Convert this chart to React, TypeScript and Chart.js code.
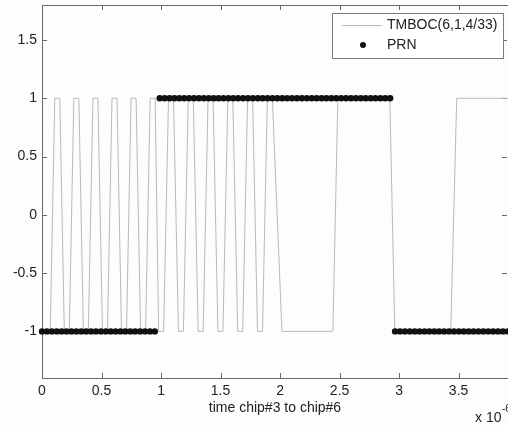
import React, { useEffect, useRef } from 'react';
import { Chart, registerables } from 'chart.js';

Chart.register(...registerables);

// ---- data (time axis in units of 1e-6 s) ----
const X_TICKS = [0, 0.5, 1, 1.5, 2, 2.5, 3, 3.5];
const Y_TICKS = [-1, -0.5, 0, 0.5, 1, 1.5];
const X_MIN = 0;
const X_MAX = 3.915;
const Y_MIN = -1.4;
const Y_MAX = 1.8;

const SERIES_LABELS = ['TMBOC(6,1,4/33)', 'PRN'];
const X_LABEL = 'time chip#3 to chip#6';

// PRN samples (24 per chip, chips #3..#6)
const SAMPLE_STEP = 0.0412;
const prnValues = [
  -1, -1, -1, -1, -1, -1, -1, -1, -1, -1, -1, -1, -1, -1, -1, -1, -1, -1, -1, -1, -1, -1, -1, -1,
  1, 1, 1, 1, 1, 1, 1, 1, 1, 1, 1, 1, 1, 1, 1, 1, 1, 1, 1, 1, 1, 1, 1, 1,
  1, 1, 1, 1, 1, 1, 1, 1, 1, 1, 1, 1, 1, 1, 1, 1, 1, 1, 1, 1, 1, 1, 1, 1,
  -1, -1, -1, -1, -1, -1, -1, -1, -1, -1, -1, -1, -1, -1, -1, -1, -1, -1, -1, -1, -1, -1, -1, -1,
];

// TMBOC waveform vertices
const tmbocTimes = [
  0, 0.0692, 0.1074, 0.1493, 0.1875, 0.2294, 0.2676, 0.3096, 0.3477, 0.3897,
  0.4279, 0.4698, 0.508, 0.5499, 0.5881, 0.63, 0.6682, 0.7101, 0.7483, 0.7903,
  0.8284, 0.8704, 0.9086, 0.9505, 0.9799, 1.0218, 1.0629, 1.1049, 1.146, 1.1879,
  1.229, 1.271, 1.3121, 1.354, 1.3951, 1.4371, 1.4782, 1.5201, 1.5612, 1.6032,
  1.6443, 1.6862, 1.7273, 1.7693, 1.8104, 1.8523, 1.8935, 1.9354, 2.0159, 2.4438,
  2.4857, 2.922, 2.964, 3.4338, 3.4841, 3.915,
];
const tmbocValues = [
  -1, -1, 1, 1, -1, -1, 1, 1, -1, -1,
  1, 1, -1, -1, 1, 1, -1, -1, 1, 1,
  -1, -1, 1, 1, -1, -1, 1, 1, -1, -1,
  1, 1, -1, -1, 1, 1, -1, -1, 1, 1,
  -1, -1, 1, 1, -1, -1, 1, 1, -1, -1,
  1, 1, -1, -1, 1, 1,
];

const FONT = '"Liberation Sans", Arial, Helvetica, sans-serif';
const LINE_COLOR = '#b9b9b9';
const DOT_COLOR = '#111111';
const AXIS_COLOR = '#6a6a6a';
const TEXT_COLOR = '#222222';

const framePlugin = {
  id: 'frame',
  beforeDraw(chart: any) {
    const { ctx, width, height } = chart;
    ctx.save();
    ctx.fillStyle = '#fdfdfd';
    ctx.fillRect(0, 0, width, height);
    ctx.restore();
  },
  beforeDatasetsDraw(chart: any) {
    const { ctx, chartArea: a, scales } = chart;
    ctx.save();
    ctx.strokeStyle = AXIS_COLOR;
    ctx.lineWidth = 1;
    ctx.strokeRect(Math.round(a.left) + 0.5, Math.round(a.top) + 0.5, a.right - a.left, a.bottom - a.top);
    ctx.beginPath();
    const tl = 5;
    X_TICKS.forEach((v) => {
      const px = Math.round(scales.x.getPixelForValue(v)) + 0.5;
      ctx.moveTo(px, a.bottom);
      ctx.lineTo(px, a.bottom - tl);
      ctx.moveTo(px, a.top);
      ctx.lineTo(px, a.top + tl);
    });
    Y_TICKS.forEach((v) => {
      const py = Math.round(scales.y.getPixelForValue(v)) + 0.5;
      ctx.moveTo(a.left, py);
      ctx.lineTo(a.left + tl, py);
      ctx.moveTo(a.right - 1, py);
      ctx.lineTo(a.right - 1 - tl, py);
    });
    ctx.stroke();
    ctx.restore();
  },
  afterDraw(chart: any) {
    const { ctx, chartArea: a } = chart;
    ctx.save();
    ctx.fillStyle = TEXT_COLOR;
    ctx.font = `14px ${FONT}`;
    ctx.textAlign = 'center';
    ctx.textBaseline = 'middle';
    ctx.fillText(X_LABEL, (a.left + a.right) / 2, 408);
    ctx.textAlign = 'left';
    ctx.fillText('x 10', 475, 418);
    ctx.font = `10px ${FONT}`;
    ctx.fillText('-6', 502, 409);

    // legend
    const bx = 332, by = 13, bw = 171, bh = 45;
    ctx.fillStyle = '#ffffff';
    ctx.fillRect(bx, by, bw, bh);
    ctx.strokeStyle = '#7a7a7a';
    ctx.lineWidth = 1;
    ctx.strokeRect(bx + 0.5, by + 0.5, bw, bh);
    ctx.strokeStyle = LINE_COLOR;
    ctx.beginPath();
    ctx.moveTo(342, 25.5);
    ctx.lineTo(382, 25.5);
    ctx.stroke();
    ctx.fillStyle = DOT_COLOR;
    ctx.beginPath();
    ctx.arc(363, 45, 3, 0, Math.PI * 2);
    ctx.fill();
    ctx.fillStyle = TEXT_COLOR;
    ctx.font = `14px ${FONT}`;
    ctx.textAlign = 'left';
    ctx.textBaseline = 'middle';
    ctx.fillText(SERIES_LABELS[0], 387, 25);
    ctx.fillText(SERIES_LABELS[1], 387, 45);
    ctx.restore();
  },
};

export default function App() {
  const canvasRef = useRef<HTMLCanvasElement | null>(null);

  useEffect(() => {
    const canvas = canvasRef.current;
    if (!canvas) return;
    const linePoints = tmbocTimes.map((t, i) => ({ x: t, y: tmbocValues[i] }));
    const dotPoints = prnValues.map((v, i) => ({ x: i * SAMPLE_STEP, y: v }));

    const chart = new Chart(canvas, {
      type: 'line',
      data: {
        datasets: [
          {
            label: SERIES_LABELS[1],
            data: dotPoints,
            showLine: false,
            pointRadius: 3.2,
            pointHoverRadius: 3.2,
            pointBackgroundColor: DOT_COLOR,
            pointBorderWidth: 0,
            borderColor: DOT_COLOR,
            order: 0,
            clip: false as any,
          },
          {
            label: SERIES_LABELS[0],
            data: linePoints,
            borderColor: LINE_COLOR,
            borderWidth: 1,
            pointRadius: 0,
            tension: 0,
            fill: false,
            order: 1,
            clip: false as any,
          },
        ],
      },
      options: {
        animation: false,
        responsive: false,
        events: [],
        layout: { autoPadding: false, padding: { top: 5, left: 0, right: 0, bottom: 0 } },
        plugins: {
          legend: { display: false },
          tooltip: { enabled: false },
          title: { display: false },
        },
        scales: {
          x: {
            type: 'linear',
            min: X_MIN,
            max: X_MAX,
            border: { display: false },
            grid: { display: false, drawTicks: false },
            afterBuildTicks: (scale: any) => {
              scale.ticks = X_TICKS.map((v) => ({ value: v }));
            },
            afterFit: (scale: any) => {
              scale.height = 47;
              scale.paddingLeft = 0;
              scale.paddingRight = 0;
            },
            ticks: {
              autoSkip: false,
              maxRotation: 0,
              padding: 5,
              color: TEXT_COLOR,
              font: { family: FONT, size: 14 },
              callback: (v: any) => String(v),
            },
          },
          y: {
            type: 'linear',
            min: Y_MIN,
            max: Y_MAX,
            border: { display: false },
            grid: { display: false, drawTicks: false },
            afterBuildTicks: (scale: any) => {
              scale.ticks = Y_TICKS.map((v) => ({ value: v }));
            },
            afterFit: (scale: any) => {
              scale.width = 42;
              scale.paddingTop = 0;
              scale.paddingBottom = 0;
            },
            ticks: {
              autoSkip: false,
              padding: 5,
              color: TEXT_COLOR,
              font: { family: FONT, size: 14 },
              callback: (v: any) => String(v),
            },
          },
        },
      },
      plugins: [framePlugin],
    });

    return () => {
      chart.destroy();
    };
  }, []);

  return (
    <div style={{ position: 'absolute', left: 0, top: 0, width: 508, height: 425 }}>
      <canvas ref={canvasRef} width={508} height={425} style={{ display: 'block', width: 508, height: 425 }} />
    </div>
  );
}
